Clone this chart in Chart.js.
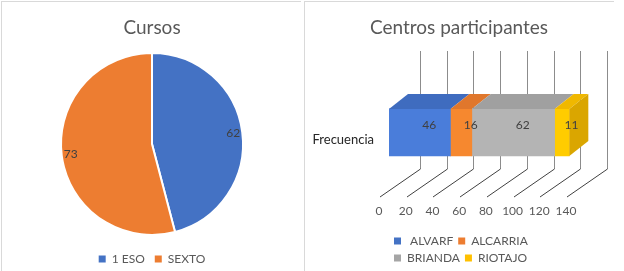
<!DOCTYPE html>
<html>
<head>
<meta charset="utf-8">
<script src="https://cdn.jsdelivr.net/npm/chart.js@4.4.1/dist/chart.umd.min.js"></script>
<style>
  html, body { margin: 0; padding: 0; background: #fff; }
  body { width: 624px; height: 271px; position: relative; overflow: hidden; }
  .line { position: absolute; background: #d9d9d9; }
  canvas { position: absolute; top: 0; }
  #cursosChart { left: 0; }
  #centrosChart { left: 304px; }
</style>
</head>
<body>
<div class="line" style="left:1px;top:1px;width:300px;height:1px"></div>
<div class="line" style="left:1px;top:1px;width:1px;height:270px"></div>
<div class="line" style="left:304px;top:1px;width:310px;height:1px"></div>
<div class="line" style="left:304px;top:1px;width:1px;height:270px"></div>
<canvas id="cursosChart" width="304" height="271"></canvas>
<canvas id="centrosChart" width="310" height="271"></canvas>
<script>
// --- Cursos (pie) ---
let pieLabels = ['1 ESO', 'SEXTO'];
let pieValues = [62, 73];
let pieColors = ['#4472C4', '#ED7D31'];

// --- Centros participantes (3D stacked bar) ---
let rowLabels = ['Frecuencia'];
let centerNames = [' ALVARF', 'ALCARRIA', 'BRIANDA', 'RIOTAJO'];
let centerValues = [46, 16, 62, 11];
let legendColors = ['#4472C4', '#ED7D31', '#A5A5A5', '#FFC000'];
let frontColors = ['#4A7DDA', '#F6882F', '#B4B4B4', '#FFCC00'];
let topColors = ['#3F6CBF', '#E0772C', '#A0A0A0', '#F0B800'];
let sideColors = ['#35609F', '#C8651F', '#8C8C8C', '#DAA600'];

var fontName = 'Lato, "Liberation Sans", sans-serif';
var textGray = '#595959';

// value labels on the slices, ~90% of the radius along the middle angle
var pieValueLabels = {
	id: 'pieValueLabels',
	afterDatasetsDraw(chart) {
		var ctx = chart.ctx;
		var meta = chart.getDatasetMeta(0);
		ctx.save();
		ctx.font = '12px ' + fontName;
		ctx.fillStyle = '#404040';
		ctx.textAlign = 'center';
		ctx.textBaseline = 'middle';
		meta.data.forEach(function (arc, i) {
			var mid = (arc.startAngle + arc.endAngle) / 2;
			var r = arc.outerRadius * 0.9;
			ctx.fillText(pieValues[i], arc.x + Math.cos(mid) * r, arc.y + Math.sin(mid) * r);
		});
		ctx.restore();
	}
};

var cursosChart = new Chart(document.getElementById('cursosChart').getContext('2d'), {
	type: 'pie',
	data: {
		labels: pieLabels,
		datasets: [{
			data: pieValues,
			backgroundColor: pieColors,
			borderColor: '#ffffff',
			borderWidth: 2,
			radius: 91
		}]
	},
	options: {
		responsive: false,
		animation: false,
		layout: { padding: { bottom: -4 } },
		plugins: {
			title: {
				display: true,
				text: 'Cursos',
				color: textGray,
				font: { size: 19, family: fontName, weight: 'normal' },
				padding: { top: 16, bottom: 6 }
			},
			legend: {
				position: 'bottom',
				labels: {
					boxWidth: 7,
					boxHeight: 7,
					padding: 10,
					color: textGray,
					font: { size: 12, family: fontName },
					generateLabels: function (chart) {
						return Chart.overrides.pie.plugins.legend.labels.generateLabels(chart).map(function (item) {
							item.lineWidth = 0;
							return item;
						});
					}
				}
			},
			tooltip: { enabled: false }
		}
	},
	plugins: [pieValueLabels]
});

// back wall, floor lines, bar tops/side and value labels
var bar3d = {
	id: 'bar3d',
	afterLayout(chart) {
		// title centred over the whole panel, not only the padded part
		var t = chart.titleBlock;
		t.left = 0;
		t.right = chart.width;
		t.width = chart.width;
	},
	beforeDatasetsDraw(chart) {
		var ctx = chart.ctx;
		var x = chart.scales.x;
		ctx.save();
		ctx.lineWidth = 1;
		x.ticks.forEach(function (t) {
			var px = Math.round(x.getPixelForValue(t.value));
			ctx.strokeStyle = '#8c8c8c';
			ctx.beginPath();
			ctx.moveTo(px + 31.5, 51);
			ctx.lineTo(px + 31.5, 169);
			ctx.stroke();
			ctx.strokeStyle = '#404040';
			ctx.beginPath();
			ctx.moveTo(px + 31.5, 169);
			ctx.lineTo(px - 9, 197);
			ctx.stroke();
		});
		ctx.restore();
	},
	afterDatasetsDraw(chart) {
		var ctx = chart.ctx;
		var dx = 19, dy = -15;
		var last = chart.data.datasets.length - 1;
		ctx.save();
		chart.data.datasets.forEach(function (ds, i) {
			var bar = chart.getDatasetMeta(i).data[0];
			var top = bar.y - bar.height / 2;
			var bottom = bar.y + bar.height / 2;
			ctx.fillStyle = topColors[i];
			ctx.beginPath();
			ctx.moveTo(bar.base, top);
			ctx.lineTo(bar.x, top);
			ctx.lineTo(bar.x + dx, top + dy);
			ctx.lineTo(bar.base + dx, top + dy);
			ctx.closePath();
			ctx.fill();
			if (i === last) {
				ctx.fillStyle = sideColors[i];
				ctx.beginPath();
				ctx.moveTo(bar.x, top);
				ctx.lineTo(bar.x + dx, top + dy);
				ctx.lineTo(bar.x + dx, bottom + dy);
				ctx.lineTo(bar.x, bottom);
				ctx.closePath();
				ctx.fill();
			}
		});
		ctx.font = '12px ' + fontName;
		ctx.fillStyle = '#404040';
		ctx.textAlign = 'center';
		ctx.textBaseline = 'middle';
		chart.data.datasets.forEach(function (ds, i) {
			var bar = chart.getDatasetMeta(i).data[0];
			ctx.fillText(ds.data[0], (bar.base + bar.x) / 2 + dx / 2, bar.y + dy / 2);
		});
		ctx.restore();
	}
};

var centrosChart = new Chart(document.getElementById('centrosChart').getContext('2d'), {
	type: 'bar',
	data: {
		labels: rowLabels,
		datasets: centerNames.map(function (name, i) {
			return {
				label: name,
				data: [centerValues[i]],
				backgroundColor: frontColors[i],
				borderWidth: 0,
				barThickness: 47
			};
		})
	},
	options: {
		indexAxis: 'y',
		responsive: false,
		animation: false,
		layout: { padding: { right: 38, bottom: -3 } },
		scales: {
			x: {
				stacked: true,
				min: 0,
				max: 140,
				grid: { display: false, drawTicks: false },
				border: { display: false },
				ticks: {
					stepSize: 20,
					autoSkip: false,
					maxRotation: 0,
					labelOffset: -10,
					padding: 9,
					color: textGray,
					font: { size: 12, family: fontName }
				},
				afterFit: function (scale) { scale.height = 35; }
			},
			y: {
				stacked: true,
				grid: { display: false, drawTicks: false },
				border: { display: false },
				ticks: {
					padding: 15,
					labelOffset: 7,
					color: '#262626',
					font: { size: 13, family: fontName }
				},
				afterFit: function (scale) { scale.width = 85; }
			}
		},
		plugins: {
			title: {
				display: true,
				text: 'Centros participantes',
				color: textGray,
				font: { size: 19, family: fontName, weight: 'normal' },
				padding: { top: 16, bottom: 31 }
			},
			legend: {
				position: 'bottom',
				align: 'start',
				fullSize: false,
				labels: {
					boxWidth: 7,
					boxHeight: 7,
					padding: 5,
					color: textGray,
					font: { size: 12, family: fontName },
					generateLabels: function (chart) {
						return Chart.defaults.plugins.legend.labels.generateLabels(chart).map(function (item, i) {
							item.fillStyle = legendColors[i];
							item.strokeStyle = legendColors[i];
							item.lineWidth = 0;
							return item;
						});
					}
				}
			},
			tooltip: { enabled: false }
		}
	},
	plugins: [bar3d]
});
</script>
</body>
</html>
